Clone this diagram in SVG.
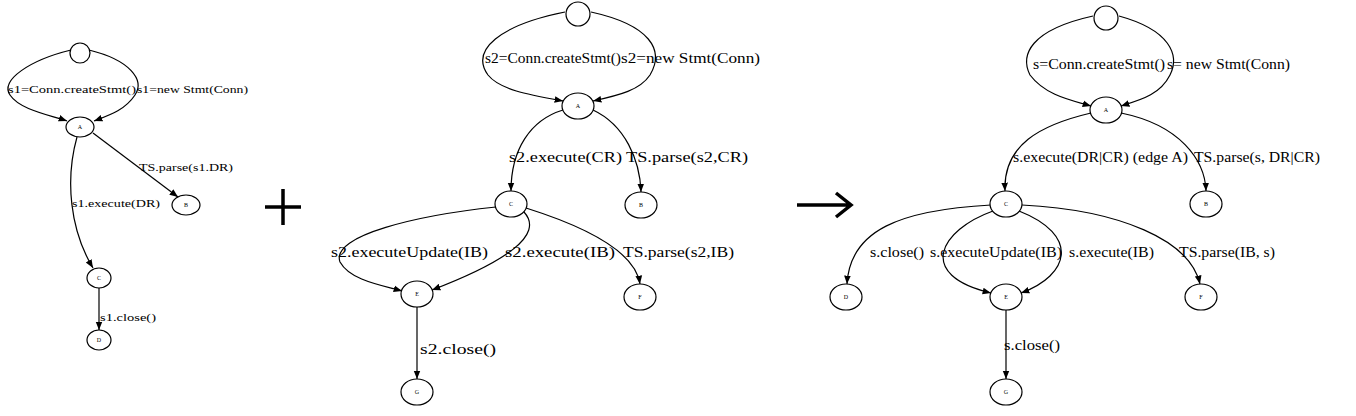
<svg xmlns="http://www.w3.org/2000/svg" width="1356" height="416" viewBox="0 0 1356 416">
<style>
.n{fill:#fff;stroke:#000;stroke-width:1.2}
.e{fill:none;stroke:#000;stroke-width:1.2}
.t{font-family:"Liberation Serif",serif;font-size:14px;fill:#000}
.s{font-family:"Liberation Serif",serif;font-size:11px;fill:#000}
.k{font-family:"Liberation Serif",serif;font-size:6px;fill:#000;text-anchor:middle}
</style>
<defs><marker id="a" viewBox="0 0 10 10" refX="10" refY="5" markerWidth="7" markerHeight="7" orient="auto"><path d="M0,1L10,5L0,9z"/></marker></defs>
<rect width="1356" height="416" fill="#fff"/>
<g id="connectors" class="e" marker-end="url(#a)">
<path d="M71,50C30,60 0,80 10,95C20,110 50,115 67,121"/>
<path d="M89,50C130,60 145,80 135,95C125,110 110,115 94,121"/>
<path d="M77,137C65,180 70,230 93,268"/>
<path d="M93,133L178,197"/>
<path d="M99,288L99,330"/>
<path d="M565,12C500,25 470,50 488,75C500,90 530,95 563,101"/>
<path d="M591,12C650,25 665,50 650,75C640,90 620,95 593,101"/>
<path d="M563,110C530,120 511,150 511,191"/>
<path d="M593,110C625,125 640,160 641,192"/>
<path d="M496,207C420,215 330,235 340,262C350,280 380,285 402,291"/>
<path d="M524,212C545,235 505,262 432,290"/>
<path d="M526,208C580,225 635,250 640,284"/>
<path d="M417,307L417,379"/>
<path d="M1093,16C1030,30 1020,55 1030,75C1045,95 1070,100 1091,106"/>
<path d="M1119,16C1170,30 1180,55 1170,75C1160,95 1140,100 1121,106"/>
<path d="M1091,113C1040,125 1003,145 1005,191"/>
<path d="M1121,113C1180,125 1205,160 1206,191"/>
<path d="M991,205C900,210 850,230 847,284"/>
<path d="M993,211C940,230 915,275 991,293"/>
<path d="M1019,211C1080,235 1070,275 1021,293"/>
<path d="M1022,205C1120,210 1190,240 1200,284"/>
<path d="M1006,310L1006,379"/>
</g>
<g id="g1-start"><circle class="n" cx="80" cy="53" r="10"/></g>
<g id="g1-A"><ellipse class="n" cx="80" cy="127" rx="14" ry="10"/><text class="k" x="80" y="129">A</text></g>
<g id="g1-B"><ellipse class="n" cx="186" cy="205" rx="14" ry="10"/><text class="k" x="186" y="207">B</text></g>
<g id="g1-C"><ellipse class="n" cx="99" cy="278" rx="12" ry="10"/><text class="k" x="99" y="280">C</text></g>
<g id="g1-D"><ellipse class="n" cx="99" cy="340" rx="12" ry="10"/><text class="k" x="99" y="342">D</text></g>
<g id="g2-start"><circle class="n" cx="578" cy="14" r="12"/></g>
<g id="g2-A"><ellipse class="n" cx="578" cy="106" rx="16" ry="13"/><text class="k" x="578" y="108">A</text></g>
<g id="g2-B"><ellipse class="n" cx="641" cy="205" rx="16" ry="13"/><text class="k" x="641" y="207">B</text></g>
<g id="g2-C"><ellipse class="n" cx="511" cy="204" rx="16" ry="13"/><text class="k" x="511" y="206">C</text></g>
<g id="g2-E"><ellipse class="n" cx="417" cy="294" rx="16" ry="13"/><text class="k" x="417" y="296">E</text></g>
<g id="g2-F"><ellipse class="n" cx="640" cy="297" rx="16" ry="13"/><text class="k" x="640" y="299">F</text></g>
<g id="g2-G"><ellipse class="n" cx="417" cy="392" rx="16" ry="13"/><text class="k" x="417" y="394">G</text></g>
<g id="g3-start"><circle class="n" cx="1106" cy="18" r="12"/></g>
<g id="g3-A"><ellipse class="n" cx="1106" cy="110" rx="16" ry="13"/><text class="k" x="1106" y="112">A</text></g>
<g id="g3-B"><ellipse class="n" cx="1206" cy="204" rx="16" ry="13"/><text class="k" x="1206" y="206">B</text></g>
<g id="g3-C"><ellipse class="n" cx="1006" cy="204" rx="16" ry="13"/><text class="k" x="1006" y="206">C</text></g>
<g id="g3-D"><ellipse class="n" cx="846" cy="297" rx="16" ry="13"/><text class="k" x="846" y="299">D</text></g>
<g id="g3-E"><ellipse class="n" cx="1006" cy="297" rx="16" ry="13"/><text class="k" x="1006" y="299">E</text></g>
<g id="g3-F"><ellipse class="n" cx="1201" cy="297" rx="16" ry="13"/><text class="k" x="1201" y="299">F</text></g>
<g id="g3-G"><ellipse class="n" cx="1006" cy="392" rx="16" ry="13"/><text class="k" x="1006" y="394">G</text></g>
<g id="labels">
<text class="s" x="8" y="93" textLength="128" lengthAdjust="spacingAndGlyphs">s1=Conn.createStmt()</text>
<text class="s" x="137" y="93" textLength="111" lengthAdjust="spacingAndGlyphs">s1=new Stmt(Conn)</text>
<text class="s" x="139" y="171" textLength="94" lengthAdjust="spacingAndGlyphs">TS.parse(s1.DR)</text>
<text class="s" x="72" y="207" textLength="88" lengthAdjust="spacingAndGlyphs">s1.execute(DR)</text>
<text class="s" x="100" y="321" textLength="56" lengthAdjust="spacingAndGlyphs">s1.close()</text>
<text class="t" x="485" y="63" textLength="136" lengthAdjust="spacingAndGlyphs">s2=Conn.createStmt()</text>
<text class="t" x="621" y="63" textLength="139" lengthAdjust="spacingAndGlyphs">s2=new Stmt(Conn)</text>
<text class="t" x="509" y="162" textLength="113" lengthAdjust="spacingAndGlyphs">s2.execute(CR)</text>
<text class="t" x="626" y="162" textLength="122" lengthAdjust="spacingAndGlyphs">TS.parse(s2,CR)</text>
<text class="t" x="331" y="257" textLength="157" lengthAdjust="spacingAndGlyphs">s2.executeUpdate(IB)</text>
<text class="t" x="505" y="257" textLength="110" lengthAdjust="spacingAndGlyphs">s2.execute(IB)</text>
<text class="t" x="623" y="257" textLength="111" lengthAdjust="spacingAndGlyphs">TS.parse(s2,IB)</text>
<text class="t" x="420" y="354" textLength="76" lengthAdjust="spacingAndGlyphs">s2.close()</text>
<text class="t" x="1033" y="69" textLength="132" lengthAdjust="spacingAndGlyphs">s=Conn.createStmt()</text>
<text class="t" x="1167" y="69" textLength="123" lengthAdjust="spacingAndGlyphs">s= new Stmt(Conn)</text>
<text class="t" x="1013" y="162" textLength="175" lengthAdjust="spacingAndGlyphs">s.execute(DR|CR) (edge A)</text>
<text class="t" x="1194" y="162" textLength="126" lengthAdjust="spacingAndGlyphs">TS.parse(s, DR|CR)</text>
<text class="t" x="870" y="257" textLength="54" lengthAdjust="spacingAndGlyphs">s.close()</text>
<text class="t" x="930" y="257" textLength="132" lengthAdjust="spacingAndGlyphs">s.executeUpdate(IB)</text>
<text class="t" x="1069" y="257" textLength="85" lengthAdjust="spacingAndGlyphs">s.execute(IB)</text>
<text class="t" x="1179" y="257" textLength="96" lengthAdjust="spacingAndGlyphs">TS.parse(IB, s)</text>
<text class="t" x="1004" y="350" textLength="56" lengthAdjust="spacingAndGlyphs">s.close()</text>
</g>
<g id="ops" stroke="#000" stroke-width="3.5" fill="none">
<path d="M265,207H301M283,189V225"/>
<path d="M797,205H850M836,193L851,205L836,217"/>
</g>
</svg>
